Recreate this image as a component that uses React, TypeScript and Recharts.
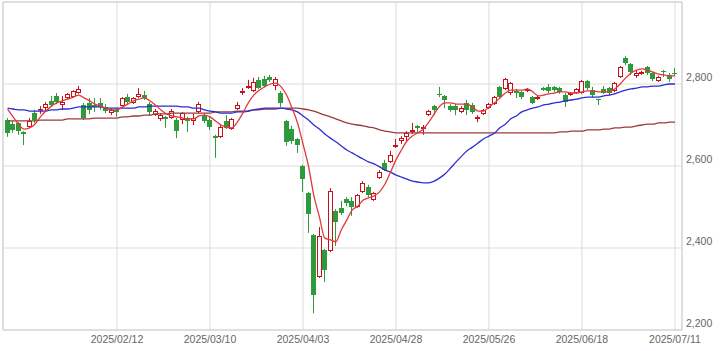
import {
  Bar,
  CartesianGrid,
  ComposedChart,
  Line,
  ReferenceArea,
  XAxis,
  YAxis,
} from "recharts";

// trading-day index of each labelled date
const tickIndex = [20, 37, 54, 71, 88, 105, 122];
const tickLabels = [
  "2025/02/12",
  "2025/03/10",
  "2025/04/03",
  "2025/04/28",
  "2025/05/26",
  "2025/06/18",
  "2025/07/11",
];
const priceTicks = [2200, 2400, 2600, 2800, 3000];

const open = [
  2712, 2702, 2705, 2683, 2695, 2729, 2737, 2741, 2759, 2771,
  2749, 2766, 2768, 2778, 2749, 2754, 2749, 2754, 2744, 2729,
  2737, 2746, 2768, 2754, 2768, 2773, 2751, 2724, 2715, 2720,
  2717, 2712, 2712, 2717, 2710, 2732, 2724, 2712, 2673, 2671,
  2710, 2690, 2739, 2778, 2790, 2783, 2810, 2812, 2817, 2795,
  2778, 2710, 2690, 2666, 2600, 2534, 2432, 2329, 2395, 2393,
  2490, 2498, 2520, 2515, 2500, 2537, 2549, 2517, 2571, 2607,
  2610, 2646, 2661, 2671, 2683, 2698, 2690, 2724, 2746, 2776,
  2771, 2746, 2746, 2732, 2754, 2749, 2715, 2727, 2741, 2751,
  2793, 2788, 2778, 2783, 2780, 2783, 2768, 2763, 2790, 2793,
  2793, 2790, 2773, 2773, 2778, 2778, 2807, 2785, 2763, 2788,
  2790, 2783, 2817, 2863, 2849, 2820, 2824, 2841, 2827, 2807,
  2832, 2822, 2827,
];
const high = [
  2717, 2710, 2707, 2685, 2717, 2737, 2746, 2756, 2771, 2778,
  2771, 2778, 2785, 2795, 2754, 2766, 2766, 2766, 2751, 2741,
  2741, 2768, 2776, 2768, 2790, 2783, 2756, 2739, 2729, 2722,
  2739, 2717, 2732, 2720, 2727, 2756, 2729, 2720, 2676, 2700,
  2724, 2717, 2756, 2790, 2810, 2815, 2817, 2820, 2822, 2817,
  2783, 2712, 2698, 2668, 2603, 2537, 2434, 2451, 2398, 2546,
  2495, 2515, 2524, 2524, 2532, 2563, 2554, 2537, 2590, 2615,
  2637, 2666, 2673, 2685, 2705, 2700, 2700, 2737, 2749, 2793,
  2773, 2751, 2751, 2746, 2761, 2754, 2724, 2739, 2754, 2771,
  2795, 2815, 2805, 2788, 2783, 2790, 2771, 2771, 2793, 2800,
  2795, 2793, 2778, 2780, 2790, 2810, 2810, 2793, 2764, 2795,
  2793, 2805, 2844, 2868, 2851, 2832, 2832, 2844, 2829, 2820,
  2834, 2827, 2839,
];
const low = [
  2671, 2681, 2676, 2651, 2693, 2705, 2727, 2734, 2744, 2751,
  2737, 2763, 2766, 2776, 2712, 2727, 2732, 2737, 2729, 2724,
  2720, 2741, 2751, 2751, 2766, 2761, 2722, 2722, 2710, 2693,
  2715, 2668, 2702, 2683, 2700, 2729, 2705, 2688, 2620, 2668,
  2690, 2688, 2737, 2773, 2788, 2780, 2788, 2793, 2805, 2785,
  2744, 2649, 2654, 2632, 2537, 2437, 2241, 2327, 2317, 2390,
  2405, 2480, 2502, 2478, 2498, 2534, 2524, 2515, 2568, 2588,
  2607, 2644, 2654, 2659, 2678, 2683, 2676, 2722, 2724, 2768,
  2741, 2732, 2724, 2729, 2724, 2727, 2707, 2724, 2739, 2749,
  2766, 2785, 2773, 2766, 2763, 2780, 2751, 2761, 2783, 2778,
  2780, 2776, 2744, 2771, 2776, 2776, 2785, 2768, 2749, 2776,
  2773, 2780, 2815, 2846, 2822, 2815, 2822, 2822, 2807, 2805,
  2817, 2805, 2820,
];
const close = [
  2681, 2688, 2685, 2678, 2710, 2712, 2739, 2751, 2749, 2756,
  2756, 2776, 2783, 2788, 2717, 2737, 2744, 2744, 2734, 2737,
  2732, 2766, 2756, 2766, 2776, 2766, 2732, 2734, 2724, 2715,
  2734, 2685, 2729, 2710, 2717, 2751, 2710, 2695, 2668, 2695,
  2693, 2715, 2749, 2783, 2795, 2805, 2790, 2795, 2810, 2812,
  2754, 2659, 2661, 2651, 2568, 2483, 2285, 2429, 2346, 2539,
  2463, 2485, 2510, 2500, 2529, 2558, 2529, 2534, 2585, 2590,
  2627, 2651, 2668, 2681, 2688, 2693, 2695, 2734, 2737, 2773,
  2761, 2737, 2737, 2741, 2737, 2732, 2720, 2737, 2751, 2768,
  2768, 2812, 2802, 2778, 2768, 2788, 2754, 2768, 2785, 2783,
  2785, 2780, 2756, 2778, 2788, 2807, 2790, 2773, 2761, 2778,
  2778, 2802, 2841, 2851, 2829, 2827, 2829, 2827, 2812, 2817,
  2829, 2812, 2824,
];

// moving averages as drawn
const ma5 = [
  2739, 2720, 2702, 2690, 2693, 2702, 2720, 2734, 2746, 2754,
  2759, 2763, 2768, 2773, 2766, 2759, 2751, 2746, 2741, 2737,
  2737, 2744, 2751, 2759, 2763, 2766, 2759, 2749, 2737, 2727,
  2722, 2720, 2717, 2715, 2715, 2722, 2724, 2720, 2710, 2700,
  2695, 2693, 2707, 2729, 2754, 2773, 2785, 2793, 2800, 2802,
  2793, 2773, 2741, 2705, 2654, 2600, 2527, 2476, 2424, 2420,
  2415, 2444, 2468, 2493, 2502, 2517, 2522, 2527, 2537, 2556,
  2585, 2615, 2639, 2661, 2673, 2681, 2690, 2707, 2727, 2746,
  2754, 2754, 2751, 2751, 2751, 2744, 2734, 2734, 2744, 2754,
  2766, 2778, 2785, 2785, 2785, 2788, 2781, 2771, 2773, 2776,
  2778, 2781, 2781, 2778, 2778, 2781, 2783, 2783, 2781, 2781,
  2781, 2788, 2800, 2815, 2827, 2834, 2837, 2834, 2829, 2824,
  2822, 2820, 2820,
];
const ma25 = [
  2741, 2739, 2737, 2737, 2734, 2734, 2734, 2734, 2737, 2737,
  2739, 2739, 2741, 2744, 2744, 2744, 2744, 2744, 2741, 2741,
  2741, 2741, 2741, 2741, 2744, 2744, 2746, 2746, 2746, 2746,
  2746, 2746, 2744, 2744, 2741, 2741, 2737, 2734, 2732, 2729,
  2729, 2729, 2732, 2732, 2734, 2737, 2739, 2741, 2741, 2741,
  2741, 2739, 2737, 2732, 2722, 2712, 2700, 2690, 2678, 2668,
  2659, 2649, 2639, 2632, 2624, 2617, 2610, 2605, 2598, 2590,
  2585, 2578, 2573, 2568, 2563, 2561, 2559, 2559, 2563, 2571,
  2581, 2595, 2610, 2624, 2637, 2646, 2656, 2666, 2673, 2680,
  2693, 2702, 2715, 2722, 2732, 2737, 2741, 2744, 2749, 2751,
  2754, 2756, 2759, 2761, 2763, 2766, 2768, 2768, 2768, 2771,
  2773, 2776, 2781, 2785, 2788, 2790, 2793, 2793, 2795, 2795,
  2798, 2800, 2800,
];
const ma75 = [
  2710, 2710, 2710, 2710, 2710, 2710, 2712, 2712, 2712, 2712,
  2712, 2715, 2715, 2715, 2715, 2715, 2717, 2717, 2717, 2717,
  2717, 2720, 2720, 2722, 2722, 2724, 2724, 2727, 2727, 2727,
  2729, 2729, 2729, 2729, 2729, 2729, 2729, 2729, 2732, 2732,
  2732, 2732, 2734, 2734, 2734, 2737, 2737, 2739, 2739, 2739,
  2741, 2741, 2741, 2741, 2739, 2737, 2734, 2729, 2724, 2720,
  2715, 2710, 2705, 2702, 2700, 2698, 2695, 2693, 2688, 2685,
  2683, 2681, 2681, 2681, 2681, 2681, 2681, 2681, 2681, 2681,
  2681, 2681, 2681, 2681, 2681, 2681, 2681, 2681, 2681, 2681,
  2681, 2681, 2681, 2681, 2681, 2681, 2681, 2681, 2681, 2681,
  2681, 2683, 2683, 2685, 2685, 2685, 2688, 2688, 2688, 2690,
  2690, 2693, 2693, 2695, 2695, 2698, 2700, 2702, 2702, 2705,
  2705, 2707, 2707,
];

const data = open.map((o, i) => ({
  i,
  o,
  h: high[i],
  l: low[i],
  c: close[i],
  range: [low[i], high[i]],
  ma5: ma5[i],
  ma25: ma25[i],
  ma75: ma75[i],
}));

const UP = "#c8101a";
const DOWN = "#2e9a3c";
const FONT = "'Liberation Sans', Arial, sans-serif";

function Candle(props: any) {
  const { x, y, width, height, payload } = props;
  if (x == null || y == null || !payload) return null;
  const { o, h, l, c } = payload;
  const span = h - l || 1;
  const py = (p: number) => y + ((h - p) / span) * height;
  const col = Math.floor(x + width / 2);
  const wx = col + 0.5;
  const top = Math.round(py(Math.max(o, c)));
  let bot = Math.round(py(Math.min(o, c)));
  if (bot - top < 1) bot = top + 1;
  const hiY = py(h);
  const loY = py(l);
  if (c >= o) {
    return (
      <g>
        <line x1={wx} x2={wx} y1={hiY} y2={top} stroke={UP} strokeWidth={1} />
        <line x1={wx} x2={wx} y1={bot} y2={loY} stroke={UP} strokeWidth={1} />
        <rect
          x={col - 1.5}
          y={top + 0.5}
          width={4}
          height={Math.max(bot - top - 1, 0.5)}
          fill="#fff"
          stroke={UP}
          strokeWidth={1}
        />
      </g>
    );
  }
  return (
    <g>
      <line x1={wx} x2={wx} y1={hiY} y2={loY} stroke={DOWN} strokeWidth={1} />
      <rect x={col - 2} y={top} width={5} height={bot - top} fill={DOWN} />
    </g>
  );
}

function DateTick(props: any) {
  const { x, payload } = props;
  const k = tickIndex.indexOf(payload.value);
  return (
    <text x={x} y={343} textAnchor="middle" fill="#666" fontSize={10.5} fontFamily={FONT}>
      {k >= 0 ? tickLabels[k] : ""}
    </text>
  );
}

function PriceTick(props: any) {
  const { y, payload } = props;
  if (payload.value >= 3000) return null;
  return (
    <text x={686} y={y - 3} textAnchor="start" fill="#666" fontSize={10.5} fontFamily={FONT}>
      {payload.value.toLocaleString("en-US")}
    </text>
  );
}

export default function App() {
  return (
    <div style={{ position: "absolute", left: 0, top: 0, background: "#fff" }}>
      <ComposedChart
        width={722}
        height={351}
        data={data}
        margin={{ top: 2, right: 0, left: 3, bottom: 0 }}
      >
        <CartesianGrid stroke="#dcdcdc" />
        <XAxis
          dataKey="i"
          type="number"
          domain={[-0.84, 123.29]}
          ticks={tickIndex}
          tick={<DateTick />}
          axisLine={false}
          tickLine={false}
          height={21}
          allowDataOverflow
        />
        <YAxis
          orientation="right"
          domain={[2200, 3000]}
          ticks={priceTicks}
          tick={<PriceTick />}
          axisLine={false}
          tickLine={false}
          width={40}
          allowDataOverflow
        />
        <ReferenceArea
          x1={-0.84}
          x2={123.29}
          y1={2200}
          y2={3000}
          fill="none"
          stroke="#d0d0d0"
          strokeWidth={1}
        />
        <Bar dataKey="range" barSize={5} shape={<Candle />} isAnimationActive={false} />
        <Line
          type="monotone"
          dataKey="ma75"
          stroke="#9a3b3b"
          strokeWidth={1.3}
          dot={false}
          activeDot={false}
          isAnimationActive={false}
        />
        <Line
          type="monotone"
          dataKey="ma25"
          stroke="#2d2dd2"
          strokeWidth={1.3}
          dot={false}
          activeDot={false}
          isAnimationActive={false}
        />
        <Line
          type="monotone"
          dataKey="ma5"
          stroke="#e23a3a"
          strokeWidth={1.3}
          dot={false}
          activeDot={false}
          isAnimationActive={false}
        />
      </ComposedChart>
    </div>
  );
}
